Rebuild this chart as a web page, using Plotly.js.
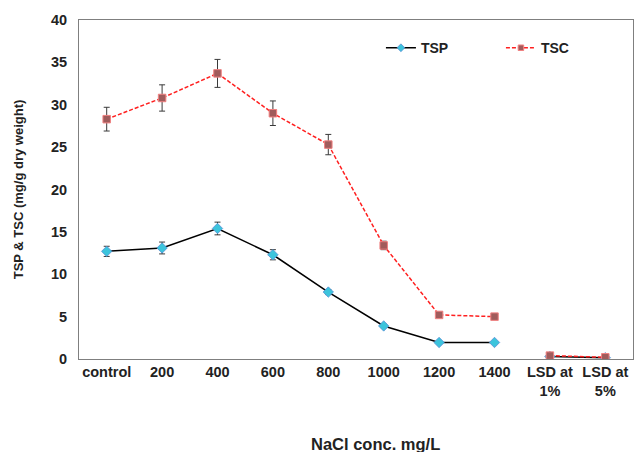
<!DOCTYPE html>
<html><head><meta charset="utf-8">
<script src="https://cdn.plot.ly/plotly-3.0.1.min.js"></script>
<style>body{margin:0;background:#fff}#c{width:634px;height:452px}</style>
</head><body><div id="c"></div>
<script>
const categories = ["control","200","400","600","800","1000","1200","1400","LSD at<br>1%","LSD at<br>5%"];
const tspMain = [12.7,13.1,15.4,12.3,7.9,3.9,1.95,1.95,null,null];
const tspErr  = [0.6,0.7,0.75,0.6,0.3,0.2,0,0,0,0];
const tspLsd  = [null,null,null,null,null,null,null,null,0.3,0.15];
const tscMain = [28.3,30.8,33.7,29.0,25.3,13.4,5.2,5.0,null,null];
const tscErr  = [1.4,1.55,1.65,1.45,1.2,0.5,0,0,0,0];
const tscLsd  = [null,null,null,null,null,null,null,null,0.4,0.2];

const FONT = 'Liberation Sans, Arial, sans-serif';
const tspMarker = {symbol:'diamond', size:8, color:'#3cc4dc', line:{color:'#5b8fd6', width:0.8}};
const tscMarker = {symbol:'square', size:7.5, color:'#a05c5c', line:{color:'#f08080', width:1}};
const errStyle = (arr)=>({type:'data', array:arr, visible:true, color:'#3a3a3a', thickness:1, width:3});
const tscLine = {color:'#ff2020', width:1.5, dash:'4px,2px'};
const tspLine = {color:'#000', width:1.5};

const traces = [
  {x:categories, y:tspMain, name:'TSP', mode:'lines+markers', line:tspLine, marker:tspMarker, error_y:errStyle(tspErr), showlegend:false},
  {x:categories, y:tspLsd, name:'TSP', mode:'lines+markers', line:tspLine, marker:tspMarker, showlegend:false},
  {x:categories, y:tscMain, name:'TSC', mode:'lines+markers', line:tscLine, marker:tscMarker, error_y:errStyle(tscErr), showlegend:false},
  {x:categories, y:tscLsd, name:'TSC', mode:'lines+markers', line:tscLine, marker:tscMarker, showlegend:false},
  // legend entries
  {x:[null], y:[null], name:'TSP', mode:'lines+markers', line:tspLine, marker:Object.assign({}, tspMarker, {size:6}), hoverinfo:'skip'},
  {x:[null], y:[null], name:'TSC', mode:'lines+markers', line:tscLine, marker:Object.assign({}, tscMarker, {size:5.5}), hoverinfo:'skip'}
];

const layout = {
  width:634, height:452,
  margin:{l:79, r:1, t:20, b:93, autoexpand:false},
  paper_bgcolor:'#fff', plot_bgcolor:'#fff',
  font:{family:FONT, size:14, color:'#222'},
  showlegend:true,
  legend:{orientation:'h', x:0.545, y:0.917, xanchor:'left', yanchor:'middle', entrywidth:75, entrywidthmode:'pixels',
          font:{size:14, family:FONT, weight:'bold', color:'#222'}, bgcolor:'rgba(0,0,0,0)'},
  xaxis:{type:'category', range:[-0.5,9.5], showline:true, mirror:true, linecolor:'#7f7f7f', linewidth:1,
         ticks:'', showgrid:false, zeroline:false, tickangle:0, automargin:false,
         tickfont:{size:14.5, family:FONT, weight:'bold', color:'#222'}},
  yaxis:{range:[0,40], dtick:5, showline:true, mirror:true, linecolor:'#7f7f7f', linewidth:1,
         ticks:'', showgrid:false, zeroline:false, ticklabelstandoff:8, automargin:false,
         tickfont:{size:14.5, family:FONT, weight:'bold', color:'#222'},
         title:{text:'TSP & TSC (mg/g dry weight)', standoff:24, font:{size:13, family:FONT, weight:'bold', color:'#222'}}},
  annotations:[{text:'NaCl conc. mg/L', xref:'paper', yref:'paper', x:0.535, y:-0.251, xanchor:'center', yanchor:'middle', showarrow:false,
    font:{size:16.5, family:FONT, weight:'bold', color:'#222'}}]
};
Plotly.newPlot('c', traces, layout, {displayModeBar:false});
</script></body></html>
